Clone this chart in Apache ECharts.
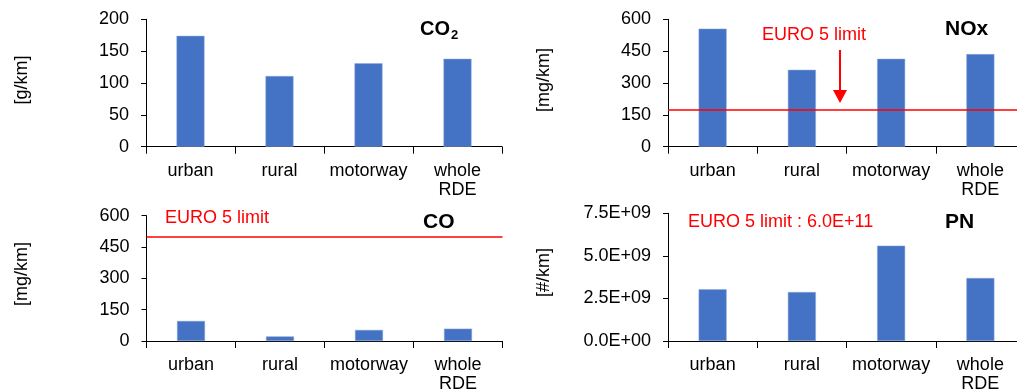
<!DOCTYPE html>
<html><head><meta charset="utf-8">
<script src="https://cdn.jsdelivr.net/npm/echarts@6/dist/echarts.min.js"></script>
<style>html,body{margin:0;padding:0;background:#fff}#c{width:1017px;height:389px}</style>
</head><body><div id="c"></div>
<script>
var categories = ['urban', 'rural', 'motorway', 'whole\nRDE'];
var co2 = [174, 111, 131, 138];
var nox = [556, 362, 414, 436];
var co = [96, 22, 53, 59];
var pn = [3.04e9, 2.88e9, 5.6e9, 3.7e9];
var noxLimit = 175;
var coLimit = 500;
var co2Ticks = {min: 0, max: 200, interval: 50};
var noxTicks = {min: 0, max: 600, interval: 150};
var coTicks = {min: 0, max: 600, interval: 150};
var pnTicks = {min: 0, max: 7.5e9, interval: 2.5e9};

var FONT = 'Liberation Sans, Arial, sans-serif';
var BLUE = '#4472C4';
var RED = '#FF0000';

function expFmt(v) {
  if (v === 0) return '0.0E+00';
  var e = Math.floor(Math.log10(Math.abs(v)) + 1e-9);
  var m = v / Math.pow(10, e);
  return m.toFixed(1) + 'E+' + (e < 10 ? '0' + e : e);
}

var grids = [
  {left: 146, top: 19.3, width: 356, height: 127.4, outerBoundsMode: 'none'},
  {left: 668, top: 19.3, width: 357, height: 127.4, outerBoundsMode: 'none'},
  {left: 146.5, top: 215.7, width: 356, height: 125.3, outerBoundsMode: 'none'},
  {left: 668, top: 213.3, width: 357, height: 127.7, outerBoundsMode: 'none'}
];
var ticks = [co2Ticks, noxTicks, coTicks, pnTicks];
var datas = [co2, nox, co, pn];

var xAxes = grids.map(function (g, i) {
  return {
    type: 'category', gridIndex: i, data: categories,
    axisLine: {lineStyle: {color: '#000', width: 1}},
    axisTick: {show: true, length: 7, lineStyle: {color: '#000'}},
    axisLabel: {color: '#000', fontSize: 18, fontFamily: FONT, margin: 15, lineHeight: 19, interval: 0}
  };
});
var yAxes = grids.map(function (g, i) {
  var t = ticks[i];
  return {
    type: 'value', gridIndex: i, min: t.min, max: t.max, interval: t.interval,
    axisLine: {show: true, lineStyle: {color: '#000', width: 1}},
    axisTick: {show: true, length: 5, lineStyle: {color: '#000'}},
    splitLine: {show: false},
    axisLabel: {color: '#000', fontSize: 18, fontFamily: FONT, margin: 17,
      formatter: i === 3 ? expFmt : null}
  };
});

function limitLine(v) {
  return {
    silent: true, symbol: 'none', label: {show: false},
    lineStyle: {color: RED, width: 1.5, type: 'solid'},
    data: [{yAxis: v}]
  };
}

var series = datas.map(function (d, i) {
  var s = {
    type: 'bar', xAxisIndex: i, yAxisIndex: i, data: d, barWidth: 28,
    itemStyle: {color: BLUE, borderColor: '#8FAADC', borderWidth: 0.5},
    animation: false
  };
  if (i === 1) s.markLine = limitLine(noxLimit);
  if (i === 2) s.markLine = limitLine(coLimit);
  return s;
});

function txt(x, y, text, opts) {
  var st = {text: text, x: 0, y: 0, font: (opts.bold ? 'bold ' : '') + (opts.size || 18) + 'px ' + FONT,
    fill: opts.color || '#000', textAlign: opts.align || 'left', textVerticalAlign: 'middle'};
  return {type: 'text', x: x, y: y, rotation: opts.rot || 0, style: st, z: 100};
}

var graphic = [
  txt(22, 80, '[g/km]', {align: 'center', rot: Math.PI / 2}),
  txt(544.5, 80, '[mg/km]', {align: 'center', rot: Math.PI / 2}),
  txt(22, 274, '[mg/km]', {align: 'center', rot: Math.PI / 2}),
  txt(544.5, 272.5, '[#/km]', {align: 'center', rot: Math.PI / 2}),
  txt(420, 29, 'CO', {bold: true, size: 20}),
  txt(451, 35, '2', {bold: true, size: 13}),
  txt(945, 29, 'NOx', {bold: true, size: 21}),
  txt(423, 222.5, 'CO', {bold: true, size: 21}),
  txt(945, 222.5, 'PN', {bold: true, size: 21}),
  txt(762, 35, 'EURO 5 limit', {color: RED}),
  txt(165, 218.5, 'EURO 5 limit', {color: RED}),
  txt(688, 222.5, 'EURO 5 limit : 6.0E+11', {color: RED}),
  {type: 'line', shape: {x1: 840, y1: 50, x2: 840, y2: 92}, style: {stroke: RED, lineWidth: 2}, z: 100},
  {type: 'polygon', shape: {points: [[833, 90], [847, 90], [840, 103]]}, style: {fill: RED}, z: 100}
];

var chart = echarts.init(document.getElementById('c'), null, {renderer: 'canvas'});
chart.setOption({
  animation: false,
  grid: grids,
  xAxis: xAxes,
  yAxis: yAxes,
  series: series,
  graphic: graphic
});
</script></body></html>
